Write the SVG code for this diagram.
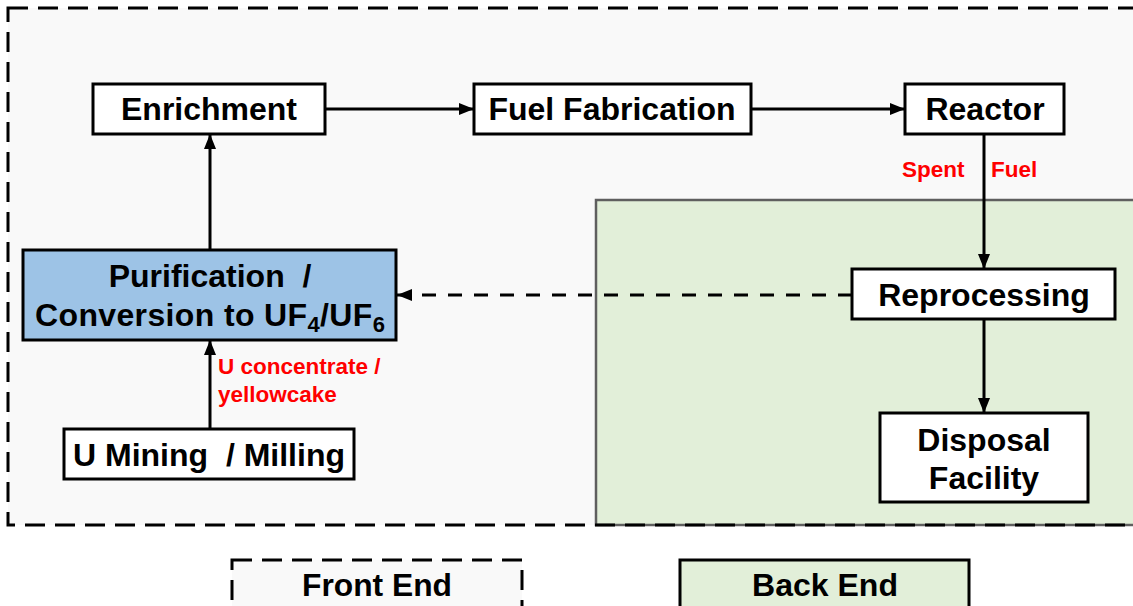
<svg xmlns="http://www.w3.org/2000/svg" width="1133" height="606" viewBox="0 0 1133 606">
  <style>
    .box { fill: #ffffff; stroke: #000000; stroke-width: 3; }
    .lbl { font-family: "Liberation Sans", Arial, sans-serif; font-weight: bold; font-size: 32px; fill: #000000; text-anchor: middle; }
    .red { font-family: "Liberation Sans", Arial, sans-serif; font-weight: bold; font-size: 22.5px; fill: #ff0000; }
    .conn { stroke: #000000; stroke-width: 3; fill: none; }
    .dash { stroke-dasharray: 14 12; }
  </style>
  <defs>
    <marker id="arrow" viewBox="0 0 15 12" refX="15" refY="6" markerWidth="15" markerHeight="12" markerUnits="userSpaceOnUse" orient="auto">
      <path d="M0,0 L15,6 L0,12 z" fill="#000000"/>
    </marker>
  </defs>

  <rect x="0" y="0" width="1133" height="606" fill="#ffffff"/>

  <g id="front-end-region">
    <rect x="8" y="8" width="1140" height="517" fill="#f9f9f9"/>
  </g>
  <g id="back-end-region">
    <rect x="596" y="200" width="560" height="325" fill="#e2efd9" stroke="#5f5f5f" stroke-width="2.5"/>
  </g>
  <rect x="8" y="8" width="1140" height="517" fill="none" stroke="#000000" stroke-width="3" stroke-dasharray="20 10"/>

  <g id="connectors">
    <line class="conn" x1="325" y1="109" x2="474" y2="109" marker-end="url(#arrow)"/>
    <line class="conn" x1="751" y1="109" x2="905" y2="109" marker-end="url(#arrow)"/>
    <line class="conn" x1="984" y1="134" x2="984" y2="269" marker-end="url(#arrow)"/>
    <line class="conn" x1="984" y1="319" x2="984" y2="413" marker-end="url(#arrow)"/>
    <line class="conn dash" x1="852" y1="295" x2="397" y2="295" marker-end="url(#arrow)"/>
    <line class="conn" x1="210" y1="429" x2="210" y2="340" marker-end="url(#arrow)"/>
    <line class="conn" x1="210" y1="250" x2="210" y2="134" marker-end="url(#arrow)"/>
    <text class="red" x="902" y="177">Spent</text>
    <text class="red" x="991" y="177">Fuel</text>
    <text class="red" x="218" y="374">U concentrate /</text>
    <text class="red" x="218" y="402">yellowcake</text>
  </g>

  <g id="enrichment">
    <rect class="box" x="93" y="84" width="232" height="50"/>
    <text class="lbl" x="209" y="120">Enrichment</text>
  </g>
  <g id="fuel-fabrication">
    <rect class="box" x="474" y="84" width="277" height="50"/>
    <text class="lbl" x="612" y="120">Fuel Fabrication</text>
  </g>
  <g id="reactor">
    <rect class="box" x="905" y="84" width="159" height="50"/>
    <text class="lbl" x="985" y="120">Reactor</text>
  </g>
  <g id="purification">
    <rect x="23" y="250" width="373" height="90" fill="#9dc3e6" stroke="#000000" stroke-width="3"/>
    <text class="lbl" x="210" y="287" xml:space="preserve">Purification  /</text>
    <text class="lbl" x="210" y="326" textLength="350" lengthAdjust="spacing">Conversion to UF<tspan font-size="22" dy="6">4</tspan><tspan dy="-6">/UF</tspan><tspan font-size="22" dy="6">6</tspan></text>
  </g>
  <g id="mining">
    <rect class="box" x="64" y="429" width="290" height="50"/>
    <text class="lbl" x="209" y="466" xml:space="preserve">U Mining  / Milling</text>
  </g>
  <g id="reprocessing">
    <rect class="box" x="852" y="269" width="263" height="50"/>
    <text class="lbl" x="984" y="306">Reprocessing</text>
  </g>
  <g id="disposal">
    <rect class="box" x="880" y="413" width="208" height="89"/>
    <text class="lbl" x="984" y="451">Disposal</text>
    <text class="lbl" x="984" y="489">Facility</text>
  </g>

  <g id="legend-front-end">
    <rect x="232" y="560" width="290" height="60" fill="#f9f9f9" stroke="#000000" stroke-width="3" stroke-dasharray="20 10"/>
    <text class="lbl" x="377" y="596" font-size="35" textLength="150" lengthAdjust="spacingAndGlyphs">Front End</text>
  </g>
  <g id="legend-back-end">
    <rect x="680" y="560" width="289" height="60" fill="#e2efd9" stroke="#000000" stroke-width="3"/>
    <text class="lbl" x="825" y="596" font-size="35" textLength="146" lengthAdjust="spacingAndGlyphs">Back End</text>
  </g>
</svg>
